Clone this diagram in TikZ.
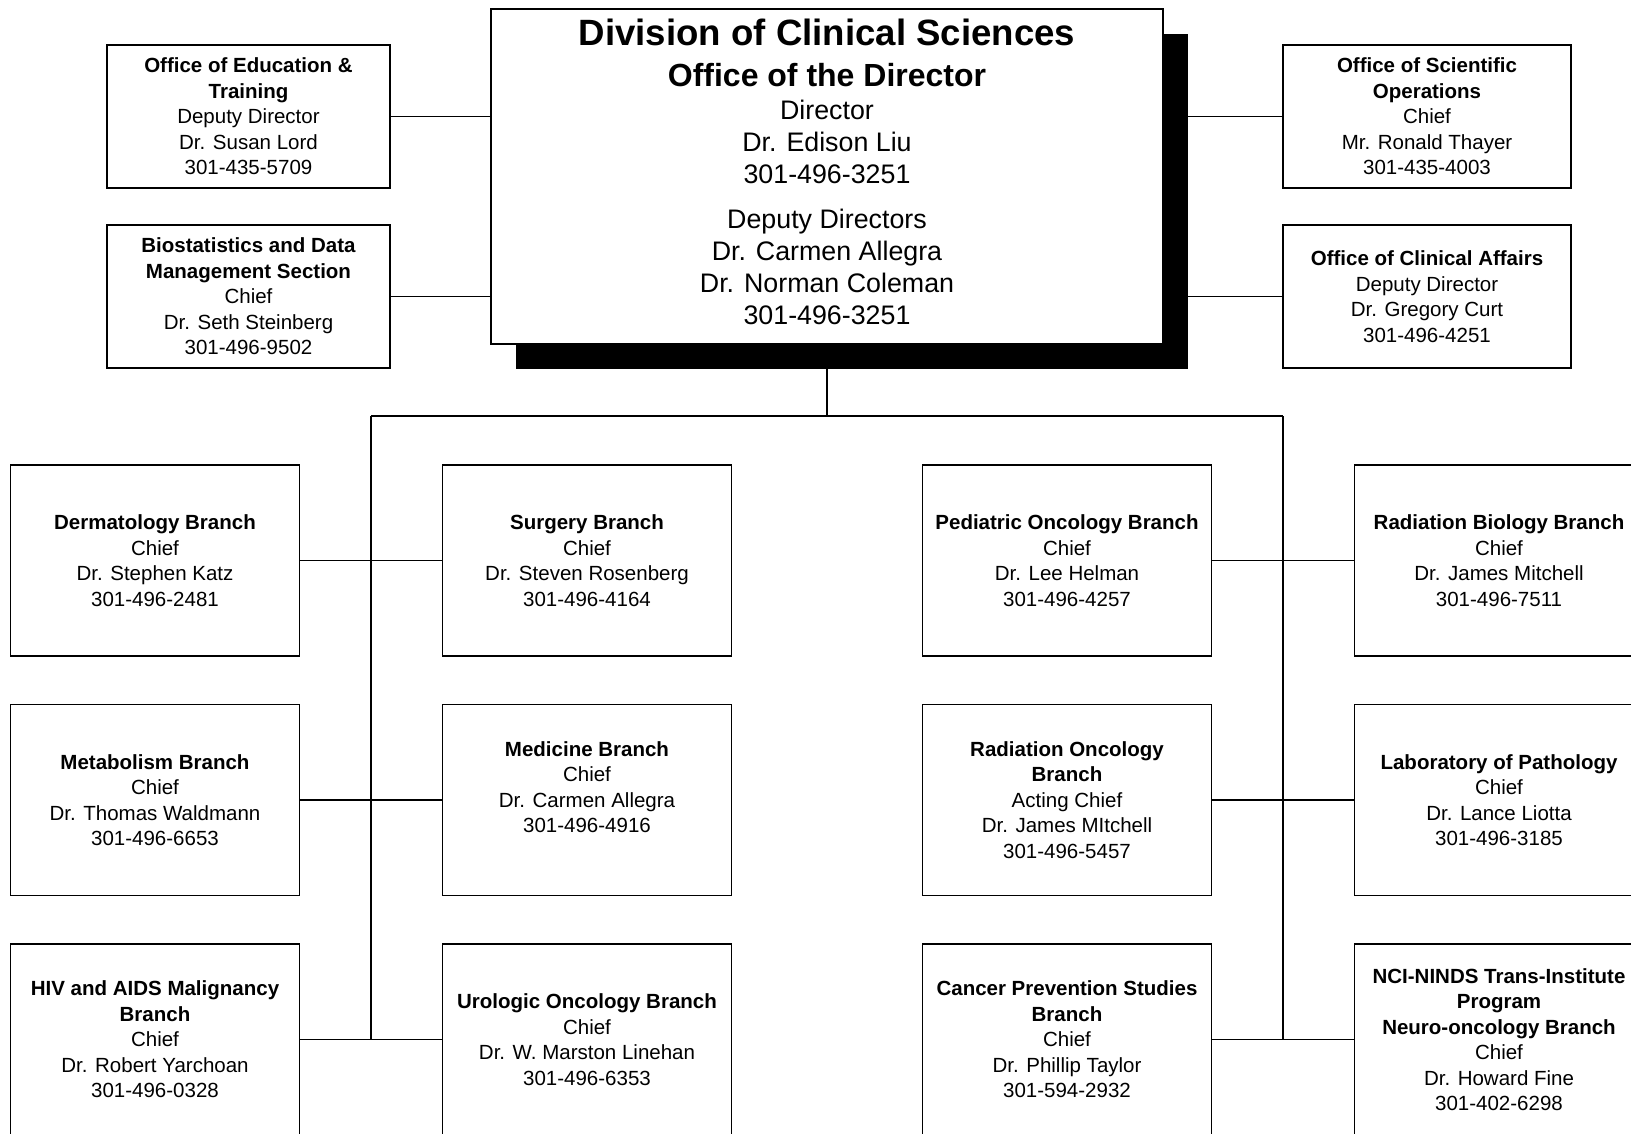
\documentclass[tikz,border=0pt]{standalone}
\usepackage{fontspec}
\setmainfont{Liberation Sans}
\usetikzlibrary{shadows,backgrounds}
\begin{document}
\begin{tikzpicture}[x=1pt,y=-1pt,
  unit/.style={draw=black, line width=1.6pt, fill=white, minimum width=289pt, minimum height=191pt, inner sep=0pt, align=center, font=\fontsize{20.5}{25.5}\selectfont},
  office/.style={unit, minimum height=143pt, minimum width=283pt},
  director/.style={draw=black, line width=1.3pt, fill=white, minimum width=672pt, minimum height=335pt, inner sep=0pt, align=center, font=\fontsize{26.8}{32}\selectfont, general shadow={fill=black, shadow xshift=25pt, shadow yshift=-25pt}},
  link/.style={line width=1.3pt}
]
\useasboundingbox (0,0) rectangle (1631,1133);

% Office of the Director
\node[director] (dir) at (827,176.5) {{\fontsize{36.6}{44}\selectfont\bfseries Division of Clinical Sciences}\\[8.5pt]
{\fontsize{32}{38}\selectfont\bfseries Office of the Director}\\[1.5pt]
Director\\Dr. Edison Liu\\301-496-3251\\[12.5pt]
Deputy Directors\\Dr. Carmen Allegra\\Dr. Norman Coleman\\301-496-3251\rule[-9.6pt]{0pt}{9.6pt}};

% staff offices
\node[office] (edu) at (248.5,116.5) {\textbf{Office of Education \&}\\\textbf{Training}\\Deputy Director\\Dr. Susan Lord\\301-435-5709};
\node[office] (bio) at (248.5,296.5) {\textbf{Biostatistics and Data}\\\textbf{Management Section}\\Chief\\Dr. Seth Steinberg\\301-496-9502};
\node[office, minimum width=288pt] (sci) at (1427,116.5) {\textbf{Office of Scientific}\\\textbf{Operations}\\Chief\\Mr. Ronald Thayer\\301-435-4003};
\node[office, minimum width=288pt] (cli) at (1427,296.5) {\textbf{Office of Clinical Affairs}\\Deputy Director\\Dr. Gregory Curt\\301-496-4251};

% branches, column 1
\node[unit] (derm) at (155,560.5) {\textbf{Dermatology Branch}\\Chief\\Dr. Stephen Katz\\301-496-2481};
\node[unit] (meta) at (155,800) {\textbf{Metabolism Branch}\\Chief\\Dr. Thomas Waldmann\\301-496-6653};
\node[unit] (hiv) at (155,1039.5) {\textbf{HIV and AIDS Malignancy}\\\textbf{Branch}\\Chief\\Dr. Robert Yarchoan\\301-496-0328};
% column 2
\node[unit] (surg) at (587,560.5) {\textbf{Surgery Branch}\\Chief\\Dr. Steven Rosenberg\\301-496-4164};
\node[unit] (med) at (587,800) {\textbf{Medicine Branch}\\Chief\\Dr. Carmen Allegra\\301-496-4916\\\mbox{}};
\node[unit] (uro) at (587,1039.5) {\textbf{Urologic Oncology Branch}\\Chief\\Dr. W. Marston Linehan\\301-496-6353};
% column 3
\node[unit] (ped) at (1067,560.5) {\textbf{Pediatric Oncology Branch}\\Chief\\Dr. Lee Helman\\301-496-4257};
\node[unit] (radonc) at (1067,800) {\textbf{Radiation Oncology}\\\textbf{Branch}\\Acting Chief\\Dr. James MItchell\\301-496-5457};
\node[unit] (canc) at (1067,1039.5) {\textbf{Cancer Prevention Studies}\\\textbf{Branch}\\Chief\\Dr. Phillip Taylor\\301-594-2932};
% column 4
\node[unit] (radbio) at (1499,560.5) {\textbf{Radiation Biology Branch}\\Chief\\Dr. James Mitchell\\301-496-7511};
\node[unit] (path) at (1499,800) {\textbf{Laboratory of Pathology}\\Chief\\Dr. Lance Liotta\\301-496-3185};
\node[unit] (neuro) at (1499,1039.5) {\textbf{NCI-NINDS Trans-Institute}\\\textbf{Program}\\\textbf{Neuro-oncology Branch}\\Chief\\Dr. Howard Fine\\301-402-6298};

% bus coordinates
\coordinate (hub) at (827,416);
\coordinate (busL) at (371,416);
\coordinate (busR) at (1283,416);

\begin{scope}[on background layer]
\fill[white] (0,0) rectangle (1631,1133);
\draw[link] (edu.east) -- (edu.east -| dir.west);
\draw[link] (bio.east) -- (bio.east -| dir.west);
\draw[link] (sci.west) -- (sci.west -| dir.east);
\draw[link] (cli.west) -- (cli.west -| dir.east);
\draw[link] (dir.south) -- (hub);
\draw[link] (busL) -- (busR);
\draw[link] (busL) -- (busL |- hiv.east);
\draw[link] (busR) -- (busR |- canc.east);
\draw[link] (derm.east) -- (surg.west);
\draw[link] (meta.east) -- (med.west);
\draw[link] (hiv.east) -- (uro.west);
\draw[link] (ped.east) -- (radbio.west);
\draw[link] (radonc.east) -- (path.west);
\draw[link] (canc.east) -- (neuro.west);
\end{scope}
\end{tikzpicture}
\end{document}
